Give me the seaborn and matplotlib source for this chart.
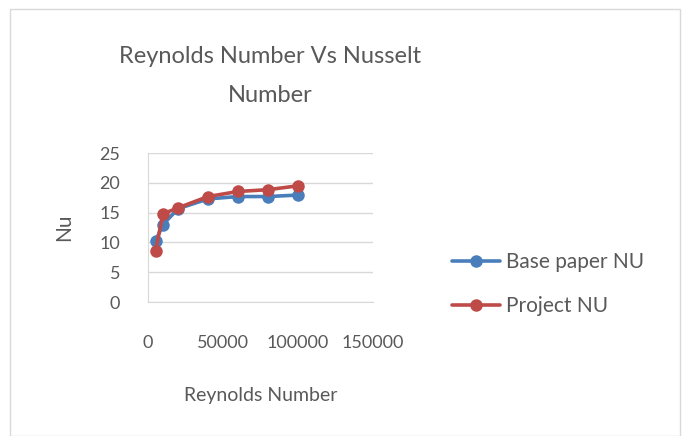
import matplotlib
matplotlib.use("Agg")
import matplotlib.pyplot as plt
import seaborn as sns
import pandas as pd
from matplotlib.patches import Rectangle

reynolds = [5000, 10000, 20000, 40000, 60000, 80000, 100000]
base_nu = [10.2, 13.0, 15.65, 17.3, 17.7, 17.7, 17.95]
project_nu = [8.6, 14.8, 15.8, 17.7, 18.55, 18.85, 19.5]
x_ticks = [0, 50000, 100000, 150000]
y_ticks = [0, 5, 10, 15, 20, 25]

sns.set_style("white")
plt.rcParams['font.family'] = ['Lato', 'DejaVu Sans']
text_col = "#595959"

df = pd.DataFrame({"Re": reynolds, "base": base_nu, "project": project_nu})

fig = plt.figure(figsize=(6.83, 4.36), dpi=100)
ax = fig.add_axes([0.2167, 0.3073, 0.3294, 0.3417])

sns.lineplot(data=df, x="Re", y="base", ax=ax, color="#4A7EBB", marker="o",
             markersize=9, markeredgewidth=0, linewidth=2.6, label="Base paper NU")
sns.lineplot(data=df, x="Re", y="project", ax=ax, color="#BE4B48", marker="o",
             markersize=9, markeredgewidth=0, linewidth=2.6, label="Project NU")

ax.set_xlim(0, 150000)
ax.set_ylim(0, 25)
ax.set_xticks(x_ticks)
ax.set_yticks(y_ticks)
ax.set_xticklabels([str(t) for t in x_ticks])
ax.tick_params(axis="x", length=0, pad=24, labelsize=13, labelcolor=text_col)
ax.tick_params(axis="y", length=0, pad=20, labelsize=13, labelcolor=text_col)
ax.grid(axis="y", color="#D9D9D9", linewidth=1)
for s in ["top", "right"]:
    ax.spines[s].set_visible(False)
for s in ["left", "bottom"]:
    ax.spines[s].set_color("#D9D9D9")
ax.set_xlabel("Reynolds Number", fontsize=14, color=text_col, labelpad=26)
ax.set_ylabel("Nu", fontsize=15, color=text_col, labelpad=18)

handles, labels = ax.get_legend_handles_labels()
ax.legend_.remove()
fig.legend(handles, labels, loc="center left", bbox_to_anchor=(0.634, 0.348),
           frameon=False, fontsize=15, labelcolor=text_col, handlelength=2.3,
           labelspacing=1.15, handletextpad=0.3)

fig.text(0.395, 0.826, "Reynolds Number Vs Nusselt\nNumber", ha="center", va="center",
         fontsize=17, color=text_col, linespacing=2.05)

fig.patches.append(Rectangle((0.015, 0.0), 0.98, 0.98, transform=fig.transFigure,
                             fill=False, edgecolor="#D9D9D9", linewidth=1))

fig.savefig("out.png", dpi=100)
